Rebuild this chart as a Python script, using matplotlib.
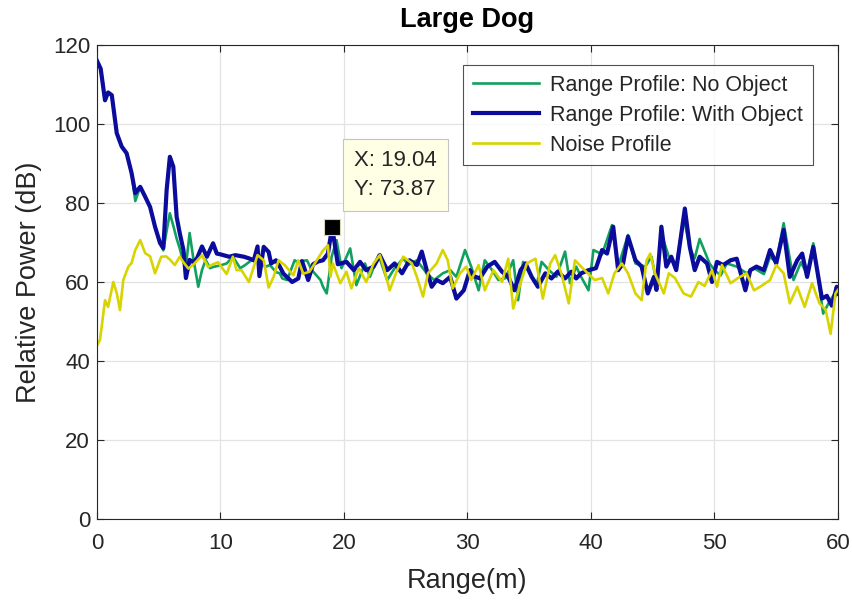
import matplotlib
matplotlib.use("Agg")
import matplotlib.pyplot as plt

plt.rcParams['font.family'] = ['Liberation Sans', 'DejaVu Sans']

# Range profile with no object present (range in m, power in dB)
range_no_obj = [0, 0.3, 0.65, 0.9, 1.2, 1.6, 2.0, 2.4, 2.8, 3.1, 3.5, 3.9, 4.3, 4.7, 5.1, 5.37,
                5.64, 5.9, 6.2, 6.45, 6.7, 7.0, 7.2, 7.5, 7.8, 8.2, 8.5, 8.8, 9.15, 9.4, 10.1,
                10.5, 11.0, 11.6, 12.0, 12.5, 12.8, 13.2, 13.6, 14.0, 14.5, 14.8, 15.0, 15.4,
                16.0, 16.2, 17.0, 17.4, 18.1, 18.3, 18.6, 19.0, 19.4, 19.8, 20.5, 21.0, 21.7,
                22.1, 22.8, 23.5, 24.1, 24.8, 25.2, 25.9, 26.7, 27.3, 28.0, 28.6, 29.1, 29.8,
                30.3, 30.9, 31.4, 32.0, 32.5, 33.1, 33.7, 34.1, 34.5, 35.2, 35.6, 36.0, 36.6,
                37.2, 37.9, 38.3, 38.8, 39.2, 39.8, 40.2, 40.9, 41.7, 42.2, 43.0, 43.6, 44.4,
                44.9, 45.3, 45.7, 46.3, 46.9, 47.5, 48.0, 48.4, 48.8, 49.6, 50.0, 50.5, 51.0,
                51.8, 52.6, 53.2, 54.0, 54.5, 55.0, 55.6, 56.4, 57.0, 57.5, 58.0, 58.8, 59.3,
                59.9, 60.0]
power_no_obj = [116, 114, 106, 108, 107.3, 97.7, 94.3, 92.6, 87.6, 80.5, 84.1, 81.6, 79, 74, 69.9, 68,
                73, 77.4, 74, 71, 68.5, 65, 64, 72.4, 66, 58.8, 63, 65.6, 63.5, 63.8, 64.3,
                64.7, 66.4, 63.5, 64.3, 65.5, 65.2, 66.4, 63.8, 64.3, 62.5, 62.2, 60.9, 60.5,
                65.5, 65.1, 65.5, 63, 60.5, 58.8, 57.1, 66.4, 70.6, 63.5, 68.5, 59.2, 64.7,
                61.3, 66.8, 60.5, 63.5, 66, 64.3, 65.5, 62.2, 60.5, 62.2, 63, 61.3, 68.1,
                63.9, 57.9, 65.5, 63, 60.5, 61, 65.5, 55.4, 65.1, 61.3, 59.2, 65.1, 63,
                61.3, 67.7, 59.7, 63.9, 61.3, 57.9, 68.1, 67, 74.4, 63.9, 71.9, 64.7, 63.9,
                66.4, 60, 72.3, 66.4, 64, 76.5, 68.5, 66, 70.9, 64.7, 63, 61.7, 64.7,
                63.9, 62.2, 63.5, 62, 66.4, 65, 74.9, 60.5, 65, 62, 69.8, 52, 55,
                57.9, 57]

# Range profile with the dog present
range_with_obj = [0, 0.3, 0.65, 0.9, 1.2, 1.6, 2.0, 2.4, 2.8, 3.1, 3.5, 3.9, 4.3, 4.7, 5.1, 5.37,
                  5.64, 5.9, 6.18, 6.45, 6.7, 7.0, 7.2, 7.5, 7.8, 8.1, 8.5, 8.9, 9.4, 9.7, 10.0,
                  10.7, 11.2, 11.9, 12.3, 12.7, 13.0, 13.15, 13.5, 13.9, 14.1, 14.5, 14.8, 15.1,
                  15.8, 16.3, 16.6, 17.1, 17.5, 17.9, 18.3, 18.7, 19.04, 19.5, 20.2, 20.8, 21.3,
                  21.8, 22.4, 22.9, 23.5, 24.1, 24.7, 25.3, 25.9, 26.3, 26.7, 27.1, 27.5, 28.0,
                  28.6, 29.1, 29.7, 30.2, 30.5, 31.0, 31.6, 32.2, 32.8, 33.3, 33.8, 34.3, 34.7,
                  35.2, 35.7, 36.3, 36.8, 37.3, 37.9, 38.4, 38.8, 39.2, 39.8, 40.4, 40.9, 41.3,
                  41.8, 42.2, 42.6, 43.0, 43.6, 44.1, 44.6, 45.1, 45.3, 45.7, 46.1, 46.5, 46.9,
                  47.6, 48.0, 48.4, 48.8, 49.4, 49.8, 50.2, 50.7, 51.3, 51.8, 52.5, 52.9, 53.4,
                  54.0, 54.5, 55.0, 55.6, 56.1, 56.7, 57.1, 57.5, 58.0, 58.7, 59.1, 59.5, 59.9,
                  60.0]
power_with_obj = [116, 114, 106, 108, 107.3, 97.7, 94.3, 92.6, 87.6, 82.5, 84.1, 81.6, 79, 74, 69.9, 68.6,
                  83.3, 91.7, 89.2, 76.5, 72.4, 68.1, 61, 65.6, 65, 66, 69, 66.4, 69.8, 67.2, 67,
                  66.4, 66.8, 66.4, 66, 65.5, 69, 61.5, 68.9, 67.6, 64.7, 65.5, 63.9, 62.1,
                  60, 60.9, 65.3, 60.5, 64.5, 65.2, 65.5, 67.2, 73.87, 64.5, 65.1, 63, 65.1,
                  63, 63.9, 66.8, 63, 64.7, 62.2, 65.5, 64.3, 67.7, 63, 58.8, 60.5, 59.7,
                  61.3, 55.8, 57.9, 63, 61.5, 60.9, 63.9, 65.1, 62.6, 61.3, 57.9, 63, 64.7,
                  61.3, 58.8, 62.2, 60.9, 62.6, 60.9, 62.6, 60.9, 62.2, 63, 63.5, 68.1, 67.2,
                  74, 63, 64.7, 71.5, 65.5, 63.9, 57.1, 61.3, 58, 74, 63.9, 66.4, 63,
                  78.6, 68.9, 63, 66.4, 64.7, 60, 65.1, 64.3, 65.5, 65.9, 57.9, 63, 63.9,
                  63, 68.1, 64.7, 73.2, 61.3, 65.5, 67.2, 61.3, 68.9, 55.8, 56.5, 54, 58.8,
                  57]

# Noise profile
range_noise = [0, 0.24, 0.65, 0.9, 1.32, 1.6, 1.86, 2.13, 2.54, 2.8, 3.1, 3.5, 3.9, 4.3, 4.7, 5.2,
               5.6, 5.9, 6.3, 6.7, 7.0, 7.4, 7.9, 8.5, 9.0, 9.4, 9.8, 10.5, 11.0, 11.3, 11.7,
               12.3, 13.0, 13.5, 13.9, 14.3, 14.7, 15.2, 15.9, 16.3, 16.7, 17.2, 17.8, 18.3,
               18.7, 18.9, 19.1, 19.7, 20.2, 20.6, 21.2, 21.8, 22.4, 22.9, 23.2, 23.7, 24.3,
               24.8, 25.5, 25.9, 26.4, 26.8, 27.5, 28.0, 28.4, 28.8, 29.4, 29.9, 30.3, 30.9,
               31.4, 32.1, 32.8, 33.3, 33.7, 34.3, 34.8, 35.5, 36.1, 36.7, 37.1, 37.6, 38.2,
               38.7, 39.2, 39.8, 40.3, 40.9, 41.4, 41.9, 42.5, 43.0, 43.6, 44.1, 44.5, 44.8,
               45.2, 45.9, 46.3, 46.8, 47.5, 48.1, 48.7, 49.2, 49.8, 50.2, 50.6, 51.3, 51.9,
               52.6, 53.2, 53.8, 54.5, 55.0, 55.6, 56.1, 56.7, 57.3, 57.9, 58.5, 59.0, 59.4,
               59.8, 60.0]
power_noise = [44, 45.3, 55.4, 53.7, 60, 57.2, 52.9, 60.5, 63.9, 64.8, 68.1, 70.6, 67.3, 66.5, 62.2, 66.4,
               66.5, 65.7, 64.3, 66.4, 65, 63.4, 64.7, 66.8, 63.8, 64.5, 65, 62, 66.4, 63, 63,
               60, 66.8, 65.5, 58.6, 61.3, 65.5, 64.3, 61.7, 65.5, 62.1, 62.6, 65.5, 68,
               69.3, 61.3, 64.7, 59.7, 62.6, 58.4, 63.5, 60, 64.7, 66.8, 63.9, 57.9, 63,
               66.4, 64.7, 61.3, 56.3, 62.2, 64.7, 68.1, 65.5, 58.4, 62.2, 63.9, 60.5, 64.3,
               57.9, 63, 60, 65.9, 53.3, 59.7, 64.7, 65.9, 55.8, 64.7, 66.8, 62.2, 54.6,
               65.5, 63.9, 62, 60.5, 61, 57.1, 62.2, 64.7, 62.2, 57.1, 55.4, 65.5, 67.2,
               62, 57.1, 62.2, 61, 57.1, 56.3, 60, 59, 63, 58.8, 64.3, 59.7, 61,
               62.2, 57.9, 59, 60.5, 64.3, 62.2, 54.6, 58.8, 53.7, 59.7, 54.6, 53, 46.9,
               57.1, 58]

series_labels = ["Range Profile: No Object", "Range Profile: With Object", "Noise Profile"]
tip_x, tip_y = 19.04, 73.87
x_ticks = [0, 10, 20, 30, 40, 50, 60]
y_ticks = [0, 20, 40, 60, 80, 100, 120]

TXT = "#262626"

fig = plt.figure(figsize=(8.53, 6.02), dpi=100)
ax = fig.add_axes([0.1137, 0.1379, 0.8687, 0.7873])

ax.plot(range_no_obj, power_no_obj, color="#12a060", lw=1.9, label=series_labels[0])
ax.plot(range_with_obj, power_with_obj, color="#0c0c9c", lw=3.0, label=series_labels[1])
ax.plot(range_noise, power_noise, color="#d8d400", lw=1.9, label=series_labels[2])

# data tip
ax.plot([tip_x], [tip_y], marker="s", ms=12, color="black", mec="#d8d8b0", mew=0.8,
        zorder=6, ls="none")
ax.annotate(f"X: {tip_x:.2f}\nY: {tip_y:.2f}", xy=(tip_x, tip_y), xytext=(22, 27),
            textcoords="offset pixels", ha="left", va="bottom", fontsize=16,
            color=TXT, linespacing=1.5, zorder=7,
            bbox=dict(boxstyle="square,pad=0.5", fc="#ffffe6", ec="#c4c4c4", lw=0.8))

ax.set_xlim(0, 60)
ax.set_ylim(0, 120)
ax.set_xticks(x_ticks)
ax.set_yticks(y_ticks)
ax.grid(True, color="#e3e3e3", lw=0.9)
ax.set_axisbelow(True)
ax.tick_params(direction="in", length=5, labelsize=16, colors=TXT, top=True, right=True,
               pad=5)
ax.tick_params(axis="x", pad=10)
for sp in ax.spines.values():
    sp.set_color(TXT)
    sp.set_linewidth(0.8)

ax.set_xlabel("Range(m)", fontsize=19.5, color=TXT, labelpad=10)
ax.set_ylabel("Relative Power (dB)", fontsize=19.5, color=TXT, labelpad=8)
ax.set_title("Large Dog", fontsize=19.5, fontweight="bold", color="black", pad=13)

leg = ax.legend(loc="upper right", bbox_to_anchor=(0.966, 0.958), fontsize=15.5,
                frameon=True, fancybox=False, handlelength=3.1, handletextpad=0.5,
                borderpad=0.45, labelspacing=0.42, borderaxespad=0)
leg.get_frame().set_edgecolor(TXT)
leg.get_frame().set_linewidth(0.8)
for t in leg.get_texts():
    t.set_color(TXT)

fig.savefig("out.png", dpi=100, facecolor="white")
